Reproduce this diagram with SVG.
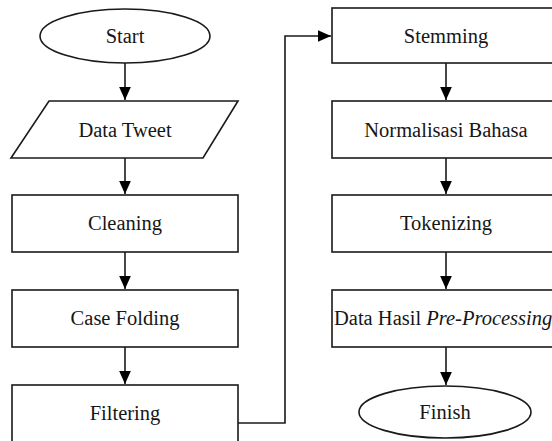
<svg xmlns="http://www.w3.org/2000/svg" width="552" height="441" viewBox="0 0 552 441">
<style>
.s{fill:#fff;stroke:#1a1a1a;stroke-width:1.6}
.t{font-family:'Liberation Serif','Times New Roman',serif;font-size:20.5px;fill:#161616;text-anchor:middle;dominant-baseline:central}
.c{fill:none;stroke:#1a1a1a;stroke-width:1.6}
</style>
<defs>
<marker id="ah" viewBox="0 0 10 10" refX="10" refY="5" markerUnits="userSpaceOnUse" markerWidth="13" markerHeight="13" orient="auto">
<path d="M0,0.5 L10,5 L0,9.5 z" fill="#000"/>
</marker>
</defs>
<rect width="552" height="441" fill="#fff"/>
<g id="start"><ellipse class="s" cx="125" cy="36" rx="85" ry="27"/><text class="t" x="125" y="36">Start</text></g>
<g id="data-tweet"><polygon class="s" points="49,101 238,101 203,158 11,158"/><text class="t" x="125" y="130">Data Tweet</text></g>
<g id="cleaning"><rect class="s" x="12" y="195" width="226" height="57"/><text class="t" x="125" y="223">Cleaning</text></g>
<g id="case-folding"><rect class="s" x="12" y="290" width="226" height="57"/><text class="t" x="125" y="318">Case Folding</text></g>
<g id="filtering"><rect class="s" x="12" y="385" width="226" height="60"/><text class="t" x="125" y="413">Filtering</text></g>
<g id="stemming"><rect class="s" x="332" y="8" width="228" height="55"/><text class="t" x="446" y="36">Stemming</text></g>
<g id="normalisasi"><rect class="s" x="332" y="101" width="228" height="57"/><text class="t" x="446" y="130">Normalisasi Bahasa</text></g>
<g id="tokenizing"><rect class="s" x="332" y="195" width="228" height="57"/><text class="t" x="446" y="223">Tokenizing</text></g>
<g id="data-hasil"><rect class="s" x="332" y="290" width="228" height="57"/><text class="t" x="334" y="318" style="text-anchor:start">Data Hasil <tspan font-style="italic">Pre-Processing</tspan></text></g>
<g id="finish"><ellipse class="s" cx="445" cy="412" rx="86" ry="26"/><text class="t" x="445" y="412">Finish</text></g>
<g id="connectors">
<line class="c" x1="125" y1="63" x2="125" y2="100" marker-end="url(#ah)"/>
<line class="c" x1="125" y1="158" x2="125" y2="194" marker-end="url(#ah)"/>
<line class="c" x1="125" y1="252" x2="125" y2="289" marker-end="url(#ah)"/>
<line class="c" x1="125" y1="347" x2="125" y2="384" marker-end="url(#ah)"/>
<polyline class="c" points="238,423 285,423 285,36 331,36" marker-end="url(#ah)"/>
<line class="c" x1="446" y1="63" x2="446" y2="100" marker-end="url(#ah)"/>
<line class="c" x1="446" y1="158" x2="446" y2="194" marker-end="url(#ah)"/>
<line class="c" x1="446" y1="252" x2="446" y2="289" marker-end="url(#ah)"/>
<line class="c" x1="446" y1="347" x2="446" y2="385" marker-end="url(#ah)"/>
</g>
</svg>
